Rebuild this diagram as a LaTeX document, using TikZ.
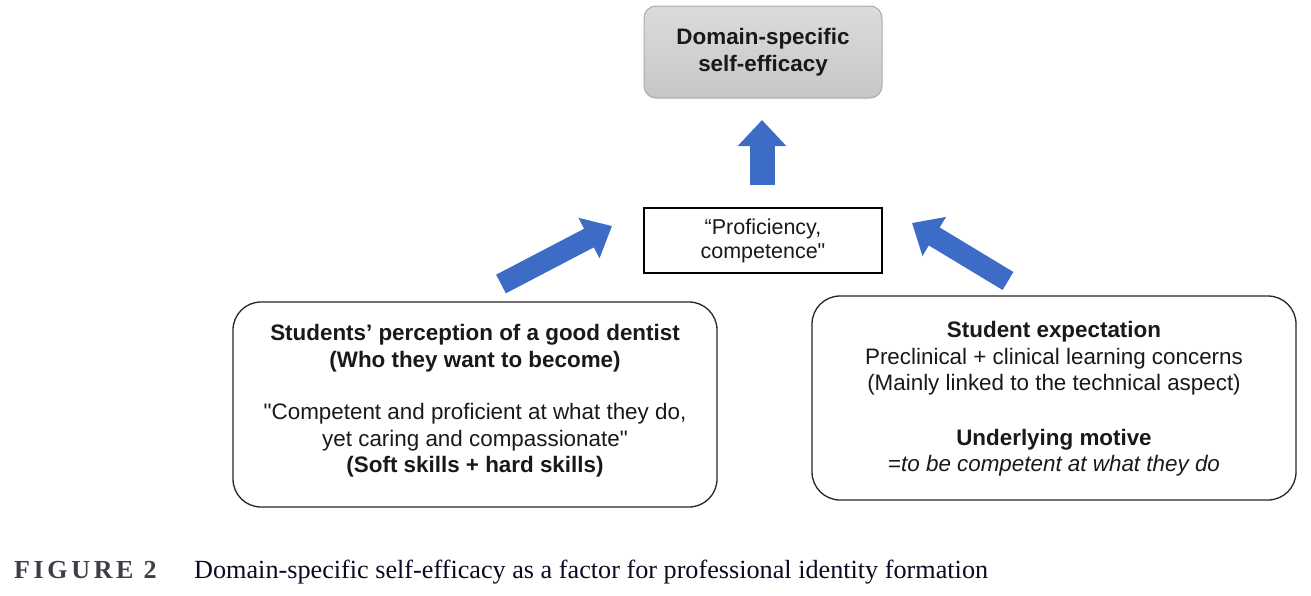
\documentclass[tikz,border=0pt]{standalone}
\usepackage{fontspec}
\setmainfont{Liberation Sans}[Ligatures=TeXOff]
\newfontfamily\capfont{Liberation Serif}
\usetikzlibrary{arrows.meta}
\definecolor{arrowblue}{RGB}{60,108,198}
\definecolor{txt}{RGB}{25,25,25}
\definecolor{capgray}{RGB}{62,62,72}
\definecolor{captxt}{RGB}{10,10,35}
\begin{document}
\begin{tikzpicture}[x=1pt,y=-1pt,
  roundbox/.style={draw=black!85, line width=1.3pt, rounded corners=28pt, align=center,
    minimum width=484pt, minimum height=205pt, text=txt,
    font=\fontsize{22.4}{26.5}\selectfont},
  topbox/.style={draw=gray!65, line width=1pt, rounded corners=12pt, align=center,
    minimum width=238pt, minimum height=92pt,
    top color={rgb,255:red,220;green,220;blue,220}, bottom color={rgb,255:red,198;green,198;blue,198},
    text=txt, font=\fontsize{22.4}{27}\selectfont\bfseries},
  midbox/.style={draw=black, line width=1.3pt, align=center,
    minimum width=238pt, minimum height=65pt, text=txt,
    font=\fontsize{21.5}{24}\selectfont},
  bigarrow/.style={arrowblue, line width=21pt, -{Triangle[width=44pt,length=26pt]}},
  uparrow/.style={arrowblue, line width=25pt, -{Triangle[width=47pt,length=26pt]}}
]
\useasboundingbox (0,0) rectangle (1311,595);

\node[topbox] (top) at (763,52) {Domain-specific\\self-efficacy};
\node[midbox] (mid) at (763,240.5) {“Proficiency,\\competence"};
\node[roundbox, minimum height=205pt, text height=0pt] (left) at (475,404.5) {};
\node[align=center, text=txt, font=\fontsize{22.4}{26.5}\selectfont] (lefttext) at (475,401)
  {\textbf{Students’ perception of a good dentist}\\
  \textbf{(Who they want to become)}\\[26pt]
  "Competent and proficient at what they do,\\
  yet caring and compassionate"\\
  \textbf{(Soft skills + hard skills)}};
\node[roundbox, minimum height=204pt] (right) at (1054,398) {};
\node[align=center, text=txt, font=\fontsize{22.4}{26.5}\selectfont] (righttext) at (1054,399)
  {\textbf{Student expectation}\\
  Preclinical + clinical learning concerns\\
  (Mainly linked to the technical aspect)\\[28pt]
  \textbf{Underlying motive}\\
  =\textit{to be competent at what they do}};

\coordinate (upS) at (762,185);
\coordinate (upE) at (762,120);
\coordinate (lS) at (501,284);
\coordinate (lE) at (612,226);
\coordinate (rS) at (1008,281);
\coordinate (rE) at (912,223);
\draw[uparrow] (upS) -- (upE);
\draw[bigarrow] (lS) -- (lE);
\draw[bigarrow] (rS) -- (rE);

\node[anchor=base west, inner sep=0pt, text=capgray,
  font=\capfont\fontsize{26}{30}\selectfont\bfseries] (figlbl) at (14,578)
  {\addfontfeatures{LetterSpace=14}FIGURE 2};
\node[anchor=base west, inner sep=0pt, text=captxt,
  font=\capfont\fontsize{26.2}{30}\selectfont] (caption) at (194,578)
  {Domain-specific self-efficacy as a factor for professional identity formation};
\end{tikzpicture}
\end{document}
